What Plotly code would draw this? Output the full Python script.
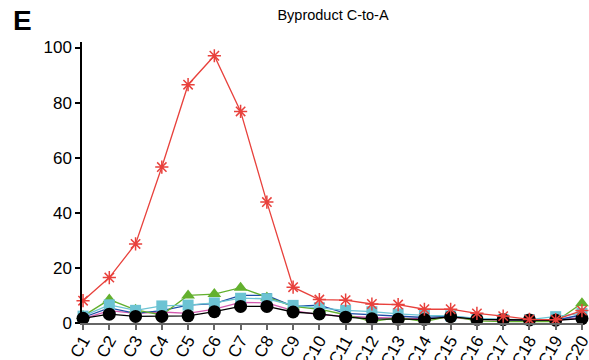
import plotly.graph_objects as go

categories = [f"C{i}" for i in range(1, 21)]

pink = [1.5, 4.5, 3.5, 4.0, 3.5, 5.0, 7.5, 7.3, 4.5, 3.0, 2.5, 2.0, 1.8, 1.5, 2.0, 1.2, 1.0, 1.0, 1.0, 2.0]
blue = [2.0, 5.5, 3.5, 4.5, 6.5, 7.0, 10.0, 10.0, 6.0, 6.5, 3.5, 3.0, 2.5, 2.0, 2.5, 1.5, 1.2, 1.0, 1.0, 3.0]
green = [2.5, 8.5, 4.8, 2.9, 10.0, 10.5, 12.8, 9.3, 6.0, 5.0, 3.0, 0.5, 2.0, 0.5, 2.5, 0.8, 0.5, 0.5, 0.5, 7.2]
cyan = [2.5, 6.6, 4.6, 6.2, 6.5, 7.3, 9.0, 8.8, 6.4, 5.5, 4.6, 4.1, 3.3, 2.8, 2.6, 1.7, 1.3, 1.2, 2.3, 3.5]
black = [1.7, 3.2, 2.4, 2.4, 2.6, 4.1, 6.0, 6.0, 4.0, 3.3, 2.1, 1.5, 1.4, 1.3, 2.3, 1.3, 1.2, 1.1, 1.0, 1.6]
red = [8.1, 16.5, 28.7, 56.6, 86.5, 97.0, 76.8, 43.9, 13.0, 8.5, 8.3, 6.9, 6.7, 5.0, 5.0, 3.5, 2.5, 1.3, 1.2, 4.5]

yticks = [0, 20, 40, 60, 80, 100]

fig = go.Figure()

def add(vals, color, symbol, size, lw=1.3, mline=None):
    marker = dict(symbol=symbol, size=size, color=color)
    if mline:
        marker["line"] = dict(color=color, width=mline)
    fig.add_trace(go.Scatter(x=categories, y=vals, mode="lines+markers",
                             line=dict(color=color, width=lw), marker=marker,
                             showlegend=False, cliponaxis=False))

add(pink, "#d45ab0", "diamond", 6)
add(blue, "#1f4ea6", "triangle-down", 9)
add(green, "#63b02e", "triangle-up", 12)
add(cyan, "#6cc3d3", "square", 11)
add(black, "#000000", "circle", 13)
add(red, "#e8413c", "asterisk-open", 11, mline=1.5)

W, H = 589, 360
L, R, T, B = 82, 6, 42, 37
pw = W - L - R
ph = H - T - B

fig.update_layout(
    width=W, height=H,
    margin=dict(l=L, r=R, t=T, b=B),
    paper_bgcolor="white", plot_bgcolor="white",
    font=dict(family="Liberation Sans, Arial, sans-serif", color="black"),
    title=dict(text="Byproduct C-to-A", x=(333) / W, xanchor="center", y=1 - 15 / H, yanchor="middle",
               font=dict(size=14.5, color="black")),
    xaxis=dict(type="category", range=[-0.04, 19.04], showgrid=False, zeroline=False,
               showline=True, linecolor="#666666", linewidth=2,
               ticks="outside", ticklen=5, tickcolor="#666666", tickwidth=1.5,
               ticklabelstandoff=-6,
               tickangle=-60, tickfont=dict(size=17, color="black"), automargin=False),
    yaxis=dict(range=[0, 102], tickvals=yticks, showgrid=False, zeroline=False,
               showline=True, linecolor="black", linewidth=1.5,
               ticks="outside", ticklen=5, tickcolor="black", tickwidth=1.5,
               tickfont=dict(size=17, color="black"), automargin=False),
    annotations=[dict(text="<b>E</b>", xref="paper", yref="paper",
                      x=(22 - L) / pw, y=(H - B - 20) / ph, xanchor="center", yanchor="middle",
                      showarrow=False, font=dict(size=28, color="black"))],
)

fig.write_html("out.html", config={"displayModeBar": False},
               post_script="document.body.style.margin='0';document.body.style.overflow='hidden';")
